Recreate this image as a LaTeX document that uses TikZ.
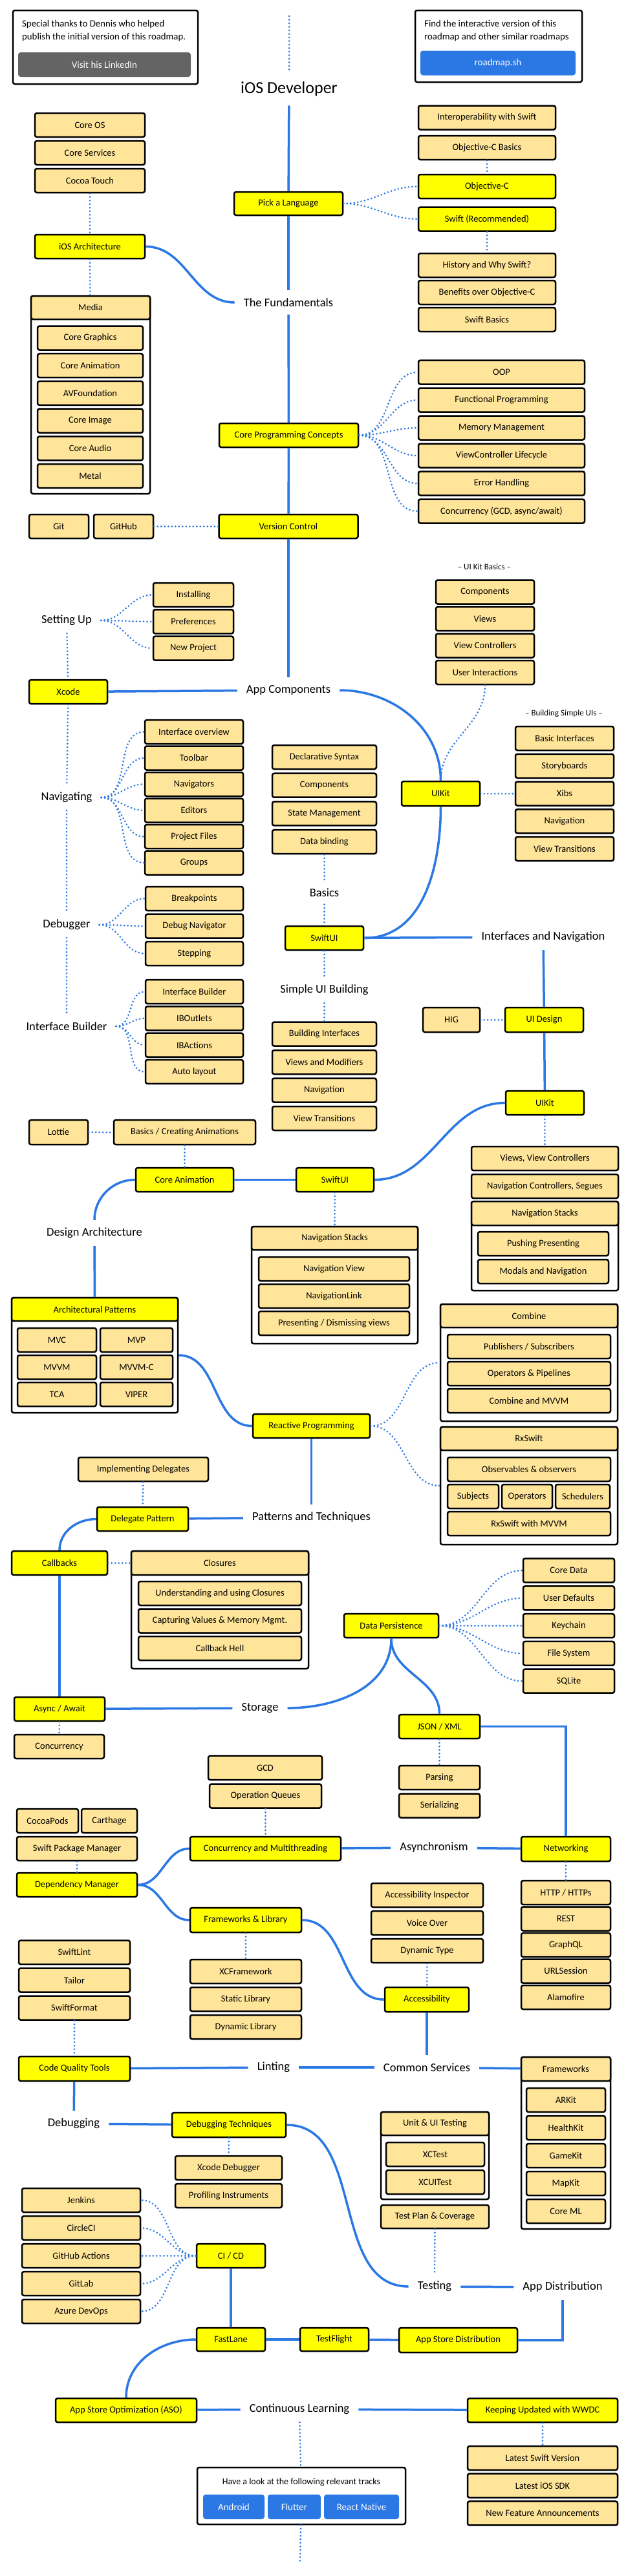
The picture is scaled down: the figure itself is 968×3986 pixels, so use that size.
\documentclass[tikz,border=0pt]{standalone}
\usepackage{fontspec}
\setmainfont{Carlito}
\usetikzlibrary{positioning}

\definecolor{topicyellow}{HTML}{FFFF00}
\definecolor{subtopic}{HTML}{FFE599}
\definecolor{lineblue}{HTML}{2B78E4}
\definecolor{btngray}{HTML}{646464}

\begin{document}
\begin{tikzpicture}[x=1pt,y=-1pt,on grid,node distance=43pt,
    box/.style={draw=black,line width=2.5pt,rounded corners=3pt,minimum height=37pt,inner sep=1pt,font=\fontsize{14.5}{16}\selectfont},
    topic/.style={box,fill=topicyellow},
    sub/.style={box,fill=subtopic},
    grp/.style={draw=black,line width=2.5pt,rounded corners=3pt,fill=white},
    wd/.style={minimum width=#1pt},
    ht/.style={minimum height=#1pt},
    lbl/.style={inner xsep=14pt,inner ysep=12pt,font=\fontsize{18.5}{21}\selectfont},
    caption/.style={font=\fontsize{13}{15}\selectfont},
    btn/.style={rounded corners=4pt,text=white,minimum height=38pt,font=\fontsize{15}{17}\selectfont},
    link/.style={draw=lineblue,line width=3.5pt},
    dotline/.style={draw=lineblue,line width=3pt,dash pattern=on 0pt off 5.5pt,line cap=round}]
\useasboundingbox (0,0) rectangle (968,3986);
\fill[white] (0,0) rectangle (968,3986);

% header
\node[grp,wd=286,ht=114] (thanks) at (163,73) {};
\node[align=left,anchor=west,inner sep=0pt,font=\fontsize{14.8}{20}\selectfont] (thankstext) at (34,48) {Special thanks to Dennis who helped\\publish the initial version of this roadmap.};
\node[btn,fill=btngray,wd=267] (linkedin) at (161.5,100) {Visit his LinkedIn};
\node[grp,wd=258,ht=111] (interactive) at (771,71.5) {};
\node[align=left,anchor=west,inner sep=0pt,font=\fontsize{14.8}{20}\selectfont] (interactivetext) at (656,48) {Find the interactive version of this\\roadmap and other similar roadmaps};
\node[btn,fill=lineblue,wd=240] (roadmapsh) at (770,97.5) {roadmap.sh};
\coordinate (topa) at (447,25);
\coordinate (topb) at (447,110);
\node[font=\fontsize{26}{30}\selectfont,inner sep=14pt] (title) at (447,138) {iOS Developer};

% fundamentals
\node[sub,wd=170] (coreos) at (139,193.5) {Core OS};
\node[sub,wd=170] (coresrv) [below=of coreos] {Core Services};
\node[sub,wd=170] (cocoa) [below=of coresrv] {Cocoa Touch};
\node[topic,wd=170] (iosarch) at (139,381.5) {iOS Architecture};
\node[grp,wd=184,ht=306] (media) at (140,611) {};
\node[sub,wd=184,ht=36] (mediah) at (140,476) {Media};
\node[sub,wd=163] (cgraphics) at (139.5,523) {Core Graphics};
\node[sub,wd=163] (canim) [below=42.7pt of cgraphics] {Core Animation};
\node[sub,wd=163] (avf) [below=42.7pt of canim] {AVFoundation};
\node[sub,wd=163] (cimage) [below=42.7pt of avf] {Core Image};
\node[sub,wd=163] (caudio) [below=42.7pt of cimage] {Core Audio};
\node[sub,wd=163] (metal) [below=42.7pt of caudio] {Metal};

\node[topic,wd=168,ht=36] (pick) at (446,315) {Pick a Language};
\node[sub,wd=212] (interop) at (753,182) {Interoperability with Swift};
\node[sub,wd=212] (objcbasics) at (753,228.5) {Objective-C Basics};
\node[topic,wd=212] (objc) at (753,288.5) {Objective-C};
\node[topic,wd=212] (swift) at (753,339) {Swift (Recommended)};
\node[sub,wd=212] (history) at (753,410.5) {History and Why Swift?};
\node[sub,wd=212] (benefits) [below=42pt of history] {Benefits over Objective-C};
\node[sub,wd=212] (swiftbasics) [below=42pt of benefits] {Swift Basics};
\node[lbl] (fund) at (446,468) {The Fundamentals};

\node[topic,wd=215] (cpc) at (446.5,673.5) {Core Programming Concepts};
\node[sub,wd=257] (oop) at (775.5,576) {OOP};
\node[sub,wd=257] (fp) [below=of oop] {Functional Programming};
\node[sub,wd=257] (mem) [below=of fp] {Memory Management};
\node[sub,wd=257] (vclife) [below=of mem] {ViewController Lifecycle};
\node[sub,wd=257] (err) [below=of vclife] {Error Handling};
\node[sub,wd=257] (conc) [below=of err] {Concurrency (GCD, async/await)};

\node[topic,wd=215] (vc) at (446,814.5) {Version Control};
\node[sub,wd=92] (git) at (91,814.5) {Git};
\node[sub,wd=92] (github) at (191,814.5) {GitHub};

% app components
\node[caption] (uikitbasics) at (749,877) {-- UI Kit Basics --};
\node[sub,wd=152] (comps) at (750,916) {Components};
\node[sub,wd=152] (views) [below=41.5pt of comps] {Views};
\node[sub,wd=152] (vcs) [below=41.5pt of views] {View Controllers};
\node[sub,wd=152] (uint) [below=41.5pt of vcs] {User Interactions};

\node[lbl] (settingup) at (103,960) {Setting Up};
\node[sub,wd=124] (installing) at (299,920.5) {Installing};
\node[sub,wd=124] (prefs) [below=41.3pt of installing] {Preferences};
\node[sub,wd=124] (newproj) [below=41.3pt of prefs] {New Project};
\node[topic,wd=121] (xcode) at (105.5,1070.5) {Xcode};
\node[lbl] (appcomp) at (446,1068) {App Components};

\node[caption] (simpleuis) at (872,1104) {-- Building Simple UIs --};
\node[sub,wd=152] (basicif) at (873,1142.5) {Basic Interfaces};
\node[sub,wd=152] (storyboards) [below=42.75pt of basicif] {Storyboards};
\node[sub,wd=152] (xibs) [below=42.75pt of storyboards] {Xibs};
\node[sub,wd=152] (uknav) [below=42.75pt of xibs] {Navigation};
\node[sub,wd=152] (ukvt) [below=42.75pt of uknav] {View Transitions};
\node[topic,wd=121,ht=38] (uikit) at (681.5,1228) {UIKit};

\node[lbl] (navigating) at (103,1234) {Navigating};
\node[sub,wd=152] (ifaceov) at (300,1132.5) {Interface overview};
\node[sub,wd=152] (toolbar) [below=40.5pt of ifaceov] {Toolbar};
\node[sub,wd=152] (navigators) [below=40.5pt of toolbar] {Navigators};
\node[sub,wd=152] (editors) [below=40.5pt of navigators] {Editors};
\node[sub,wd=152] (projfiles) [below=40.5pt of editors] {Project Files};
\node[sub,wd=152] (groups) [below=40.5pt of projfiles] {Groups};

\node[sub,wd=161] (declarative) at (501.5,1171.5) {Declarative Syntax};
\node[sub,wd=161] (sucomps) [below=43.7pt of declarative] {Components};
\node[sub,wd=161] (state) [below=43.7pt of sucomps] {State Management};
\node[sub,wd=161] (databinding) [below=43.7pt of state] {Data binding};
\node[lbl] (basics) at (501.5,1381) {Basics};
\node[topic,wd=121] (swiftui) at (501.5,1451.5) {SwiftUI};
\node[lbl] (intnav) at (840,1450) {Interfaces and Navigation};

\node[lbl] (debugger) at (103,1431) {Debugger};
\node[sub,wd=151] (breakpoints) at (300.5,1390.5) {Breakpoints};
\node[sub,wd=151] (debugnav) [below=42.5pt of breakpoints] {Debug Navigator};
\node[sub,wd=151] (stepping) [below=42.5pt of debugnav] {Stepping};

\node[lbl] (ibuilder) at (103,1588) {Interface Builder};
\node[sub,wd=151] (ibox) at (300.5,1534.5) {Interface Builder};
\node[sub,wd=151] (iboutlets) [below=41.3pt of ibox] {IBOutlets};
\node[sub,wd=151] (ibactions) [below=41.3pt of iboutlets] {IBActions};
\node[sub,wd=151] (autolayout) [below=41.3pt of ibactions] {Auto layout};

\node[lbl] (simpleui) at (501.5,1532) {Simple UI Building};
\node[sub,wd=161] (buildiface) at (501.5,1600) {Building Interfaces};
\node[sub,wd=161] (viewsmod) [below=43.5pt of buildiface] {Views and Modifiers};
\node[sub,wd=161] (sunav) [below=43.5pt of viewsmod] {Navigation};
\node[sub,wd=161] (suvt) [below=43.5pt of sunav] {View Transitions};

\node[sub,wd=88,ht=38] (hig) at (698,1578) {HIG};
\node[topic,wd=121,ht=38] (uidesign) at (841.5,1578) {UI Design};
\node[topic,wd=121] (uikit2) at (842.5,1706.5) {UIKit};

\node[sub,wd=91,ht=38] (lottie) at (90.5,1752) {Lottie};
\node[sub,wd=219,ht=38] (basicsanim) at (285.5,1752) {Basics / Creating Animations};
\node[topic,wd=151] (coreanim) at (285.5,1825.5) {Core Animation};
\node[topic,wd=120] (swiftui2) at (518,1825.5) {SwiftUI};
\node[lbl] (designarch) at (146,1908) {Design Architecture};

\node[sub,wd=227] (viewsvc) at (842.5,1792.5) {Views, View Controllers};
\node[sub,wd=227] (navctrl) [below=of viewsvc] {Navigation Controllers, Segues};
\node[grp,wd=227,ht=138] (uknavst) at (842.5,1928) {};
\node[sub,wd=227] (uknavsth) at (842.5,1877.5) {Navigation Stacks};
\node[sub,wd=202] (pushing) at (840,1924.5) {Pushing Presenting};
\node[sub,wd=202] (modals) [below=of pushing] {Modals and Navigation};

\node[grp,wd=257,ht=181] (swnav) at (517.5,1988.5) {};
\node[sub,wd=257,ht=36] (swnavh) at (517.5,1916) {Navigation Stacks};
\node[sub,wd=233] (navview) at (516.5,1963.5) {Navigation View};
\node[sub,wd=233] (navlink) [below=42pt of navview] {NavigationLink};
\node[sub,wd=233] (presenting) [below=42pt of navlink] {Presenting / Dismissing views};

% architecture
\node[grp,wd=257,ht=178] (archpat) at (146.5,2097) {};
\node[topic,wd=257,ht=36] (archpath) at (146.5,2026) {Architectural Patterns};
\node[sub,wd=122] (mvc) at (88,2073.5) {MVC};
\node[sub,wd=112] (mvp) at (211,2073.5) {MVP};
\node[sub,wd=122] (mvvm) [below=42pt of mvc] {MVVM};
\node[sub,wd=112] (mvvmc) [below=42pt of mvp] {MVVM-C};
\node[sub,wd=122] (tca) [below=42pt of mvvm] {TCA};
\node[sub,wd=112] (viper) [below=42pt of mvvmc] {VIPER};

\node[topic,wd=181] (reactive) at (481.5,2206.5) {Reactive Programming};
\node[grp,wd=274,ht=181] (combine) at (818,2108.5) {};
\node[sub,wd=274,ht=36] (combineh) at (818,2036) {Combine};
\node[sub,wd=252] (pubsub) at (818,2083.5) {Publishers / Subscribers};
\node[sub,wd=252] (operators) [below=42pt of pubsub] {Operators \& Pipelines};
\node[sub,wd=252] (combmvvm) [below=42pt of operators] {Combine and MVVM};
\node[grp,wd=274,ht=182] (rxswift) at (818,2299) {};
\node[sub,wd=274,ht=36] (rxswifth) at (818,2226) {RxSwift};
\node[sub,wd=252] (observables) at (818,2273.5) {Observables \& observers};
\node[sub,wd=79] (subjects) at (731.5,2315.5) {Subjects};
\node[sub,wd=78] (rxops) at (815,2315.5) {Operators};
\node[sub,wd=84] (schedulers) at (901,2315.5) {Schedulers};
\node[sub,wd=252] (rxmvvm) at (818,2357.5) {RxSwift with MVVM};

\node[sub,wd=201] (impldel) at (221.5,2273.5) {Implementing Delegates};
\node[topic,wd=141] (delegate) at (220.5,2350.5) {Delegate Pattern};
\node[lbl] (pattech) at (481.5,2348) {Patterns and Techniques};
\node[topic,wd=148] (callbacks) at (92,2418.5) {Callbacks};
\node[grp,wd=274,ht=182] (closures) at (340,2491) {};
\node[sub,wd=274] (closuresh) at (340,2418.5) {Closures};
\node[sub,wd=252] (understanding) at (340,2465.5) {Understanding and using Closures};
\node[sub,wd=252] (capturing) [below=42.5pt of understanding] {Capturing Values \& Memory Mgmt.};
\node[sub,wd=252] (cbhell) [below=42.5pt of capturing] {Callback Hell};

% storage and networking
\node[topic,wd=140] (async) at (92,2644.5) {Async / Await};
\node[sub,wd=139] (concurrency) at (91.5,2702.5) {Concurrency};
\node[lbl] (storage) at (402,2643) {Storage};
\node[topic,wd=146] (dataper) at (605,2515.5) {Data Persistence};
\node[sub,wd=141] (coredata) at (879.5,2430) {Core Data};
\node[sub,wd=141] (userdef) [below=42.8pt of coredata] {User Defaults};
\node[sub,wd=141] (keychain) [below=42.8pt of userdef] {Keychain};
\node[sub,wd=141] (filesys) [below=42.8pt of keychain] {File System};
\node[sub,wd=141] (sqlite) [below=42.8pt of filesys] {SQLite};
\node[topic,wd=125] (jsonxml) at (679.5,2671.5) {JSON / XML};
\node[sub,wd=125] (parsing) at (679.5,2750.5) {Parsing};
\node[sub,wd=125] (serializing) [below=43.5pt of parsing] {Serializing};

\node[sub,wd=176] (gcd) at (410,2735.5) {GCD};
\node[sub,wd=173] (opqueues) at (410.5,2779) {Operation Queues};
\node[topic,wd=233] (concmt) at (410.5,2860.5) {Concurrency and Multithreading};
\node[lbl] (asynchronism) at (671,2859) {Asynchronism};
\node[topic,wd=138,ht=38] (networking) at (875,2861) {Networking};
\node[sub,wd=138] (http) at (875,2928.5) {HTTP / HTTPs};
\node[sub,wd=138] (rest) [below=40.5pt of http] {REST};
\node[sub,wd=138] (graphql) [below=40.5pt of rest] {GraphQL};
\node[sub,wd=138] (urlsession) [below=40.5pt of graphql] {URLSession};
\node[sub,wd=138] (alamofire) [below=40.5pt of urlsession] {Alamofire};

\node[sub,wd=95] (cocoapods) at (73.5,2817.5) {CocoaPods};
\node[sub,wd=86] (carthage) at (169,2817.5) {Carthage};
\node[sub,wd=186] (spm) at (119,2860.5) {Swift Package Manager};
\node[topic,wd=186] (depmgr) at (119,2916.5) {Dependency Manager};
\node[topic,wd=172,ht=38] (fwlib) at (380,2971) {Frameworks \& Library};
\node[sub,wd=172] (xcframework) at (380,3050.5) {XCFramework};
\node[sub,wd=172] (staticlib) [below=of xcframework] {Static Library};
\node[sub,wd=172] (dynlib) [below=of staticlib] {Dynamic Library};

\node[sub,wd=173] (a11yinsp) at (660.5,2932.5) {Accessibility Inspector};
\node[sub,wd=173] (voiceover) [below=of a11yinsp] {Voice Over};
\node[sub,wd=173] (dyntype) [below=of voiceover] {Dynamic Type};
\node[topic,wd=130,ht=38] (accessibility) at (660,3094) {Accessibility};

% common services
\node[sub,wd=172] (swiftlint) at (115,3021) {SwiftLint};
\node[sub,wd=172] (tailor) [below=of swiftlint] {Tailor};
\node[sub,wd=172] (swiftformat) [below=of tailor] {SwiftFormat};
\node[topic,wd=172,ht=38] (cqt) at (115,3201) {Code Quality Tools};
\node[lbl] (linting) at (423,3199) {Linting};
\node[lbl] (commonsrv) at (660,3199) {Common Services};
\node[grp,wd=138,ht=266] (frameworks) at (875,3316) {};
\node[sub,wd=138] (frameworksh) at (875,3201.5) {Frameworks};
\node[sub,wd=122] (arkit) at (875,3249.5) {ARKit};
\node[sub,wd=122] (healthkit) [below=of arkit] {HealthKit};
\node[sub,wd=122] (gamekit) [below=of healthkit] {GameKit};
\node[sub,wd=122] (mapkit) [below=of gamekit] {MapKit};
\node[sub,wd=122] (coreml) [below=of mapkit] {Core ML};

\node[lbl] (debugging) at (114,3286) {Debugging};
\node[topic,wd=176,ht=38] (debugtech) at (354,3288) {Debugging Techniques};
\node[sub,wd=165] (xcodedebugger) at (353.5,3354.5) {Xcode Debugger};
\node[sub,wd=165] (profiling) [below=of xcodedebugger] {Profiling Instruments};
\node[grp,wd=167,ht=135] (unittest) at (672.5,3335.5) {};
\node[sub,wd=167,ht=36] (unittesth) at (672.5,3286) {Unit \& UI Testing};
\node[sub,wd=152] (xctest) at (673,3333.5) {XCTest};
\node[sub,wd=152] (xcuitest) [below=of xctest] {XCUITest};
\node[sub,wd=167,ht=36] (testplan) at (672.5,3430) {Test Plan \& Coverage};
\node[lbl] (testing) at (672,3538) {Testing};
\node[lbl] (appdist) at (870,3539) {App Distribution};

% distribution
\node[sub,wd=183] (jenkins) at (125.5,3404.5) {Jenkins};
\node[sub,wd=183] (circleci) [below=of jenkins] {CircleCI};
\node[sub,wd=183] (ghactions) [below=of circleci] {GitHub Actions};
\node[sub,wd=183] (gitlab) [below=of ghactions] {GitLab};
\node[sub,wd=183] (azure) [below=of gitlab] {Azure DevOps};
\node[topic,wd=106] (cicd) at (357,3490.5) {CI / CD};
\node[topic,wd=106,ht=36] (fastlane) at (357,3620) {FastLane};
\node[topic,wd=106,ht=36] (testflight) at (517,3620) {TestFlight};
\node[topic,wd=183,ht=38] (appstore) at (708.5,3621) {App Store Distribution};

\node[topic,wd=218] (aso) at (195,3729.5) {App Store Optimization (ASO)};
\node[lbl] (contlearn) at (463,3728) {Continuous Learning};
\node[topic,wd=232] (wwdc) at (839,3729.5) {Keeping Updated with WWDC};
\node[sub,wd=232] (latestswift) at (839,3803.5) {Latest Swift Version};
\node[sub,wd=232] (latestsdk) [below=42.7pt of latestswift] {Latest iOS SDK};
\node[sub,wd=232] (newfeat) [below=42.7pt of latestsdk] {New Feature Announcements};

\node[grp,wd=322,ht=88] (tracks) at (466,3862) {};
\node[font=\fontsize{14}{16}\selectfont] (trackstext) at (466,3841) {Have a look at the following relevant tracks};
\node[btn,fill=lineblue,wd=95] (android) at (361.5,3879) {Android};
\node[btn,fill=lineblue,wd=82] (flutter) at (455,3879) {Flutter};
\node[btn,fill=lineblue,wd=116] (reactnative) at (559,3879) {React Native};
\coordinate (botend) at (464,3964);

\path[link]
    (title) edge (pick)
    (pick) edge (fund)
    (iosarch.east) edge[out=0,in=180] (fund.west)
    (fund) edge (cpc)
    (cpc) edge (vc)
    (vc) edge (appcomp)
    (xcode) edge (appcomp)
    (appcomp.east) edge[out=0,in=90] (uikit.north)
    (uikit.south) edge[out=-90,in=0] (swiftui.east)
    (swiftui) edge (intnav)
    (intnav) edge (uidesign)
    (uidesign) edge (uikit2)
    (uikit2.west) edge[out=180,in=0] (swiftui2.east)
    (swiftui2) edge (coreanim)
    (coreanim.west) edge[out=180,in=90] (designarch.north)
    (designarch) edge (archpath)
    (archpat.east) edge[out=0,in=180] (reactive.west)
    (reactive) edge (pattech)
    (pattech) edge (delegate)
    (delegate.west) edge[out=180,in=90] (callbacks.north)
    (callbacks) edge (async)
    (async) edge (storage)
    (storage.east) edge[out=0,in=-90] (dataper.south)
    (dataper.south) edge[out=-90,in=90] (jsonxml.north)
    (jsonxml.east) edge[to path={-| (\tikztotarget)}] (networking.north)
    (networking) edge (asynchronism)
    (asynchronism) edge (concmt)
    (depmgr.east) edge[out=0,in=180] (concmt.west)
    (depmgr.east) edge[out=0,in=180] (fwlib.west)
    (fwlib.east) edge[out=0,in=180] (accessibility.west)
    (accessibility) edge (commonsrv)
    (commonsrv) edge (frameworksh)
    (commonsrv) edge (linting)
    (linting) edge (cqt)
    (cqt) edge (debugging)
    (debugging) edge (debugtech)
    (debugtech.east) edge[out=0,in=180] (testing.west)
    (testing) edge (appdist)
    (appdist.south) edge[to path={|- (\tikztotarget)}] (appstore.east)
    (cicd) edge (fastlane)
    (fastlane) edge (testflight)
    (testflight) edge (appstore)
    (fastlane.west) edge[out=180,in=90] (aso.north)
    (aso) edge (contlearn)
    (contlearn) edge (wwdc);

\path[dotline]
    (topa) edge (topb)
    (cocoa) edge (iosarch)
    (iosarch) edge (media)
    (pick.east) edge[out=0,in=180] (objc.west)
    (pick.east) edge[out=0,in=180] (swift.west)
    (objcbasics) edge (objc)
    (swift) edge (history)
    (cpc.east) edge[out=0,in=180] (oop.west)
    (cpc.east) edge[out=0,in=180] (fp.west)
    (cpc.east) edge[out=0,in=180] (mem.west)
    (cpc.east) edge[out=0,in=180] (vclife.west)
    (cpc.east) edge[out=0,in=180] (err.west)
    (cpc.east) edge[out=0,in=180] (conc.west)
    (github) edge (vc)
    (settingup.east) edge[out=0,in=180] (installing.west)
    (settingup.east) edge[out=0,in=180] (prefs.west)
    (settingup.east) edge[out=0,in=180] (newproj.west)
    (settingup) edge (xcode)
    (xcode) edge (navigating)
    (navigating) edge (debugger)
    (debugger) edge (ibuilder)
    (navigating.east) edge[out=0,in=180] (ifaceov.west)
    (navigating.east) edge[out=0,in=180] (toolbar.west)
    (navigating.east) edge[out=0,in=180] (navigators.west)
    (navigating.east) edge[out=0,in=180] (editors.west)
    (navigating.east) edge[out=0,in=180] (projfiles.west)
    (navigating.east) edge[out=0,in=180] (groups.west)
    (debugger.east) edge[out=0,in=180] (breakpoints.west)
    (debugger.east) edge[out=0,in=180] (debugnav.west)
    (debugger.east) edge[out=0,in=180] (stepping.west)
    (ibuilder.east) edge[out=0,in=180] (ibox.west)
    (ibuilder.east) edge[out=0,in=180] (iboutlets.west)
    (ibuilder.east) edge[out=0,in=180] (ibactions.west)
    (ibuilder.east) edge[out=0,in=180] (autolayout.west)
    (uint.south) edge[out=-90,in=90] (uikit.north)
    (uikit) edge (xibs)
    (databinding) edge (basics)
    (basics) edge (swiftui)
    (swiftui) edge (simpleui)
    (simpleui) edge (buildiface)
    (hig) edge (uidesign)
    (lottie) edge (basicsanim)
    (basicsanim) edge (coreanim)
    (uikit2) edge (viewsvc)
    (swiftui2) edge (swnavh)
    (reactive.east) edge[out=0,in=180] (combine.west)
    (reactive.east) edge[out=0,in=180] (rxswift.west)
    (impldel) edge (delegate)
    (callbacks) edge (closuresh)
    (dataper.east) edge[out=0,in=180] (coredata.west)
    (dataper.east) edge[out=0,in=180] (userdef.west)
    (dataper.east) edge[out=0,in=180] (keychain.west)
    (dataper.east) edge[out=0,in=180] (filesys.west)
    (dataper.east) edge[out=0,in=180] (sqlite.west)
    (async) edge (concurrency)
    (jsonxml) edge (parsing)
    (opqueues) edge (concmt)
    (spm) edge (depmgr)
    (networking) edge (http)
    (fwlib) edge (xcframework)
    (dyntype) edge (accessibility)
    (swiftformat) edge (cqt)
    (debugtech) edge (xcodedebugger)
    (testplan) edge (testing)
    (cicd.west) edge[out=180,in=0] (jenkins.east)
    (cicd.west) edge[out=180,in=0] (circleci.east)
    (cicd.west) edge[out=180,in=0] (ghactions.east)
    (cicd.west) edge[out=180,in=0] (gitlab.east)
    (cicd.west) edge[out=180,in=0] (azure.east)
    (wwdc) edge (latestswift)
    (contlearn) edge (tracks)
    (tracks) edge (botend);
\end{tikzpicture}
\end{document}
